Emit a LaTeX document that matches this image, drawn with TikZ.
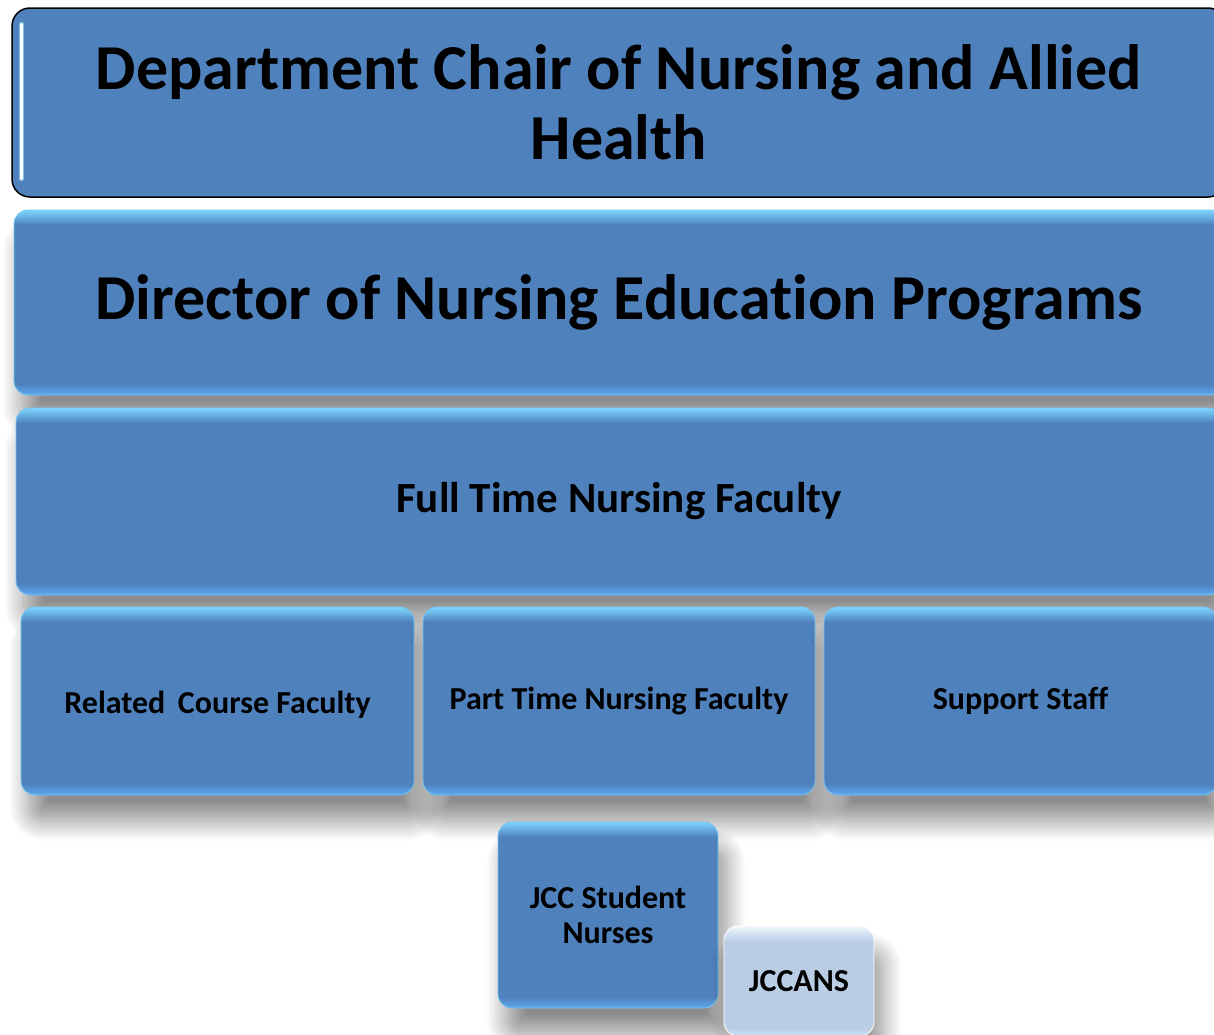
\documentclass[tikz,border=0pt]{standalone}
\usepackage{fontspec}
\setmainfont[Ligatures=NoCommon]{Carlito}
\usetikzlibrary{shadows.blur}

\definecolor{boxblue}{RGB}{79,129,189}
\definecolor{rimtop}{RGB}{125,214,255}
\definecolor{rimlow}{RGB}{96,170,240}
\definecolor{paleblue}{RGB}{185,205,229}
\definecolor{palebot}{RGB}{205,222,242}
\definecolor{paletop}{RGB}{240,247,254}

\pgfdeclareverticalshading{bevel}{100bp}{color(0bp)=(rimlow); color(25bp)=(rimlow); color(28bp)=(boxblue); color(71bp)=(boxblue); color(75bp)=(rimtop); color(100bp)=(rimtop)}
\pgfdeclareverticalshading{pale bevel}{100bp}{color(0bp)=(palebot); color(25bp)=(palebot); color(29bp)=(paleblue); color(68bp)=(paleblue); color(75bp)=(paletop); color(100bp)=(paletop)}

\begin{document}
\begin{tikzpicture}[x=1pt,y=-1pt]
    \tikzstyle{tier box}=[rectangle,rounded corners=14pt,shading=bevel,draw=rimtop!80!boxblue,line width=0.8pt,inner sep=0pt,align=center,text=black]
    \tikzstyle{drop}=[blur shadow={shadow xshift=8pt,shadow yshift=-26pt,shadow blur radius=20pt,shadow blur steps=16,shadow opacity=45}]
    \tikzstyle{big text}=[font=\fontsize{64}{70}\selectfont\bfseries]
    \tikzstyle{mid text}=[font=\fontsize{43}{48}\selectfont\bfseries]
    \tikzstyle{small text}=[font=\fontsize{32}{35}\selectfont\bfseries]

    \useasboundingbox (0,0) rectangle (1214,1034);

    % top of the chart
    \node(chair)[rectangle,rounded corners=18pt,fill=boxblue,draw=black,line width=1.5pt,minimum width=1214pt,minimum height=189pt,inner sep=0pt,align=center,big text] at (619,102.5)
        {Department Chair of Nursing and Allied\\Health};
    \draw[rimtop!60!white,line width=5pt,line cap=round,opacity=0.6] ([xshift=10pt,yshift=-17pt]chair.north west) -- ([xshift=10pt,yshift=19pt]chair.south west);
    \draw[white,line width=2.5pt,line cap=round] ([xshift=10pt,yshift=-17pt]chair.north west) -- ([xshift=10pt,yshift=19pt]chair.south west);

    \node(director)[tier box,drop,minimum width=1210pt,minimum height=185pt,big text] at (619,302.5)
        {Director of Nursing Education Programs};

    \node(fulltime)[tier box,drop,minimum width=1206pt,minimum height=187pt,mid text] at (619,501.5)
        {Full Time Nursing Faculty};

    % third row
    \node(related)[tier box,drop,minimum width=393pt,minimum height=188pt,small text] at (217.5,701)
        {\raisebox{-4pt}[\height][\depth]{Related\, Course Faculty}};
    \node(parttime)[tier box,drop,minimum width=392pt,minimum height=188pt,small text] at (619,701)
        {Part Time Nursing Faculty};
    \node(support)[tier box,drop,minimum width=393pt,minimum height=188pt,small text] at (1020.5,701)
        {Support Staff};

    % students
    \node(students)[tier box,drop,minimum width=220pt,minimum height=186pt,small text] at (608,915)
        {JCC Student\\Nurses};
    \node(jccans)[tier box,drop,shading=pale bevel,draw=white,minimum width=150pt,minimum height=110pt,small text] at (799,981)
        {JCCANS};
\end{tikzpicture}
\end{document}
